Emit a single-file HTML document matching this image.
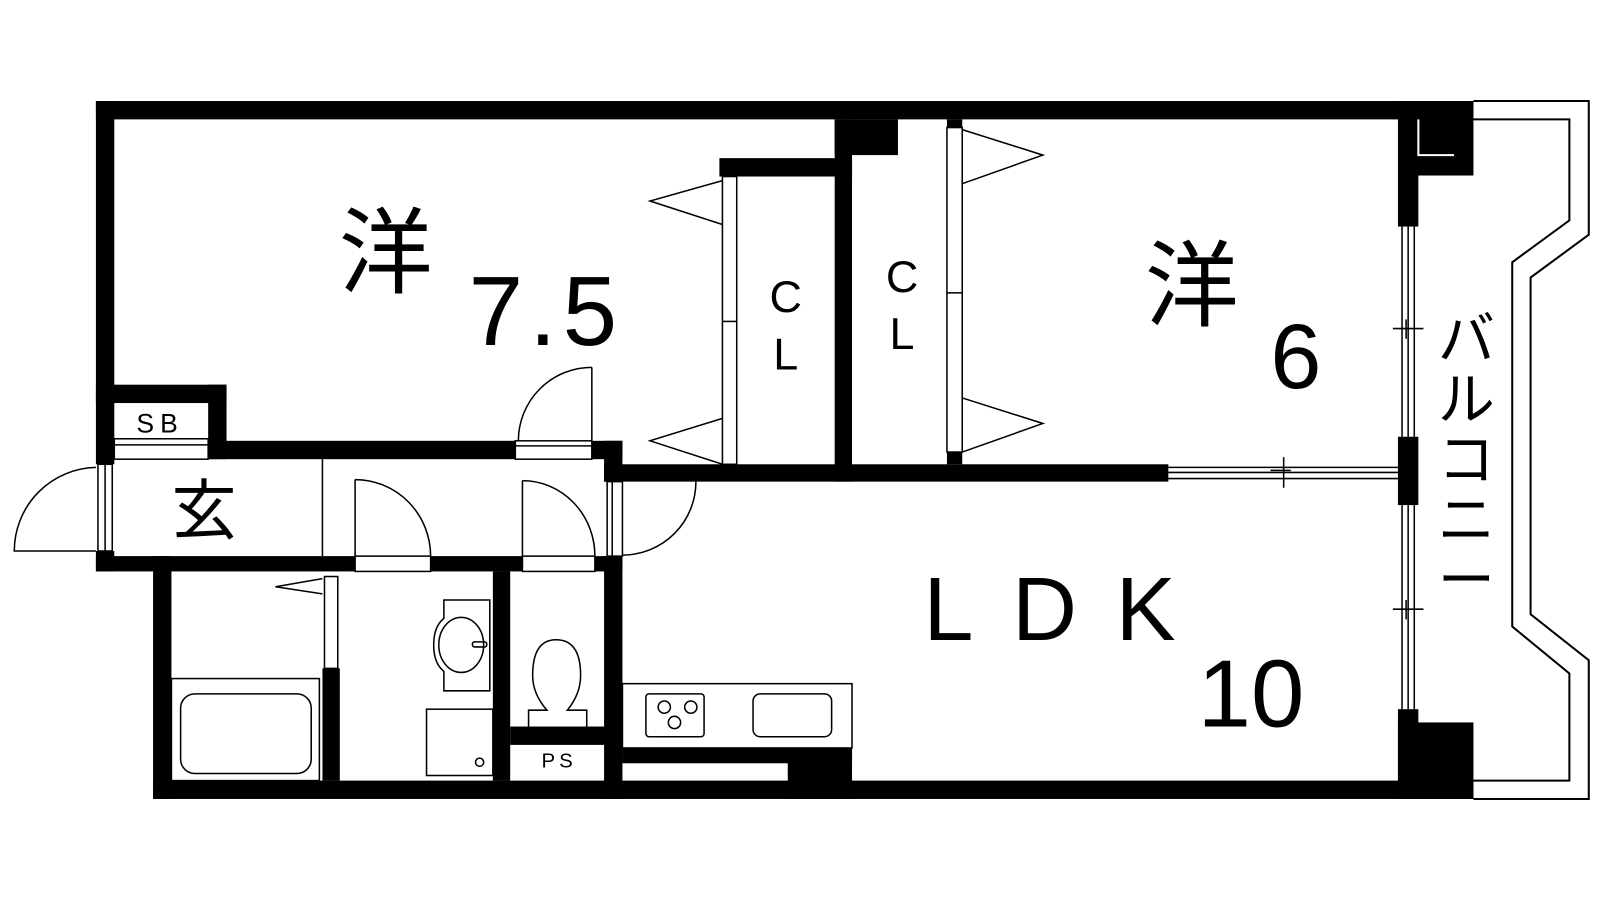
<!DOCTYPE html>
<html><head><meta charset="utf-8"><style>
html,body{margin:0;padding:0;background:#fff;}
svg{display:block;}
text{font-family:"Liberation Sans","Noto Sans CJK JP",sans-serif;fill:#000;}
</style></head><body>
<svg width="1600" height="900" viewBox="0 0 1600 900" xmlns="http://www.w3.org/2000/svg">
<rect width="1600" height="900" fill="#fff"/>
<g transform="scale(1.0204)">
<g fill="none" stroke="#000" stroke-width="2">
<polyline points="1444,99 1557,99 1557,230 1500,272 1500,602 1557,647 1557,783 1444,783"/>
<polyline points="1444,117 1538,117 1538,216 1482,257 1482,614 1538,660 1538,765 1444,765"/>
</g>
<g fill="#000">
<rect x="94" y="99" width="1350" height="18"/>
<rect x="1370" y="99" width="74" height="73"/>
<rect x="818" y="117" width="62" height="35"/>
<rect x="94" y="99" width="18" height="356"/>
<rect x="94" y="540" width="18" height="20"/>
<rect x="94" y="377" width="128" height="18"/>
<rect x="204" y="377" width="18" height="73"/>
<rect x="204" y="432" width="301" height="18"/>
<rect x="580" y="432" width="30" height="18"/>
<rect x="592" y="432" width="18" height="40"/>
<rect x="592" y="455" width="553" height="17"/>
<rect x="705" y="155" width="130" height="18"/>
<rect x="818" y="117" width="17" height="355"/>
<rect x="928" y="117" width="15" height="8"/>
<rect x="928" y="443" width="15" height="12"/>
<rect x="94" y="545" width="254" height="15"/>
<rect x="422" y="545" width="90" height="15"/>
<rect x="583" y="545" width="27" height="15"/>
<rect x="150" y="545" width="18" height="238"/>
<rect x="150" y="765" width="1294" height="18"/>
<rect x="316" y="655" width="17" height="110"/>
<rect x="483" y="560" width="17" height="205"/>
<rect x="500" y="712" width="110" height="18"/>
<rect x="592" y="545" width="18" height="238"/>
<rect x="610" y="733" width="225" height="15"/>
<rect x="772" y="733" width="63" height="50"/>
<rect x="1370" y="172" width="20" height="50"/>
<rect x="1370" y="428" width="20" height="67"/>
<rect x="1370" y="695" width="20" height="88"/>
<rect x="1370" y="708" width="74" height="75"/>
</g>
<polyline points="1390,117 1390,152 1425,152" fill="none" stroke="#fff" stroke-width="2"/>
<g fill="none" stroke="#000" stroke-width="1.5">
<line x1="1374" y1="222" x2="1374" y2="428"/><line x1="1380" y1="222" x2="1380" y2="428"/><line x1="1386" y1="222" x2="1386" y2="428"/>
<line x1="1374" y1="495" x2="1374" y2="695"/><line x1="1380" y1="495" x2="1380" y2="695"/><line x1="1386" y1="495" x2="1386" y2="695"/>
<line x1="1365" y1="322" x2="1395" y2="322"/><line x1="1378" y1="313" x2="1378" y2="332"/>
<line x1="1365" y1="597" x2="1395" y2="597"/><line x1="1378" y1="588" x2="1378" y2="607"/>
<line x1="1145" y1="458" x2="1370" y2="458"/><line x1="1145" y1="463" x2="1370" y2="463"/><line x1="1145" y1="469" x2="1370" y2="469"/>
<line x1="1258" y1="448" x2="1258" y2="478"/><line x1="1245" y1="461" x2="1265" y2="461"/>
<rect x="708" y="173" width="14" height="282"/><line x1="708" y1="315" x2="722" y2="315"/>
<polyline points="708,177 637,197 708,220"/>
<polyline points="708,410 637,432 708,455"/>
<rect x="928" y="125" width="15" height="318"/><line x1="928" y1="287" x2="943" y2="287"/>
<polyline points="943,127 1022,152 943,180"/>
<polyline points="943,390 1022,415 943,443"/>
<rect x="112" y="430" width="92" height="20"/><line x1="112" y1="436" x2="204" y2="436"/>
<rect x="505" y="432" width="75" height="18"/><line x1="505" y1="437" x2="580" y2="437"/>
<line x1="580" y1="360" x2="580" y2="432"/>
<path d="M580,360 A72,72 0 0 0 508,432"/>
<rect x="96" y="455" width="14" height="85"/><line x1="103" y1="455" x2="103" y2="540"/>
<path d="M94,458 A82,82 0 0 0 14,540 L94,540"/>
<line x1="316" y1="450" x2="316" y2="545"/>
<rect x="348" y="545" width="74" height="15"/>
<line x1="348" y1="470" x2="348" y2="545"/>
<path d="M348,470 A74,75 0 0 1 422,545"/>
<rect x="512" y="545" width="71" height="15"/>
<line x1="512" y1="471" x2="512" y2="545"/>
<path d="M512,471 A71,74 0 0 1 583,545"/>
<rect x="595" y="472" width="15" height="73"/><line x1="600" y1="472" x2="600" y2="545"/>
<path d="M682,472 A72,72 0 0 1 610,544"/>
<rect x="318" y="565" width="13" height="90"/>
<polyline points="316,567 270,575 316,582"/>
<rect x="168" y="665" width="145" height="100"/>
<rect x="177" y="680" width="128" height="78" rx="14"/>
<path d="M435,588 L480,588 L480,677 L435,677 L435,658 Q425,650 425,632 Q425,614 435,606 Z"/>
<ellipse cx="452" cy="632" rx="22" ry="27"/>
<rect x="463" y="629" width="14" height="5" rx="2"/>
<rect x="418" y="695" width="65" height="65"/>
<circle cx="470" cy="747" r="4"/>
<path d="M518,712 L518,696 L536,696 Q522,680 522,662 Q522,627 545,627 Q569,627 569,662 Q569,680 556,696 L575,696 L575,712"/>
<rect x="610" y="670" width="225" height="63"/>
<rect x="633" y="680" width="57" height="42" rx="3"/>
<circle cx="651" cy="693" r="6"/><circle cx="677" cy="693" r="6"/><circle cx="661" cy="708" r="6"/>
<rect x="738" y="680" width="77" height="42" rx="7"/>
</g>
<text x="378" y="280" font-size="92" text-anchor="middle">洋</text>
<text x="535" y="338" font-size="96" text-anchor="middle" letter-spacing="6">7.5</text>
<text x="1168" y="312" font-size="92" text-anchor="middle">洋</text>
<text x="1270" y="380" font-size="90" text-anchor="middle">6</text>
<text x="770" y="306" font-size="44" text-anchor="middle">C</text>
<text x="770" y="362" font-size="44" text-anchor="middle">L</text>
<text x="884" y="286" font-size="44" text-anchor="middle">C</text>
<text x="884" y="342" font-size="44" text-anchor="middle">L</text>
<text x="905" y="627" font-size="88" letter-spacing="38">LDK</text>
<text x="1226" y="712" font-size="94" text-anchor="middle">10</text>
<text x="200" y="523" font-size="64" text-anchor="middle">玄</text>
<text x="157" y="424" font-size="26" text-anchor="middle" letter-spacing="6">SB</text>
<text x="548" y="752" font-size="20" text-anchor="middle" letter-spacing="4">PS</text>
<g font-size="56" text-anchor="middle">
<text x="1437" y="352">バ</text>
<text x="1437" y="411">ル</text>
<text x="1437" y="470">コ</text>
<text x="1437" y="529">ニ</text>
<text x="1437" y="588">ー</text>
</g>
</g>
</svg>
</body></html>
